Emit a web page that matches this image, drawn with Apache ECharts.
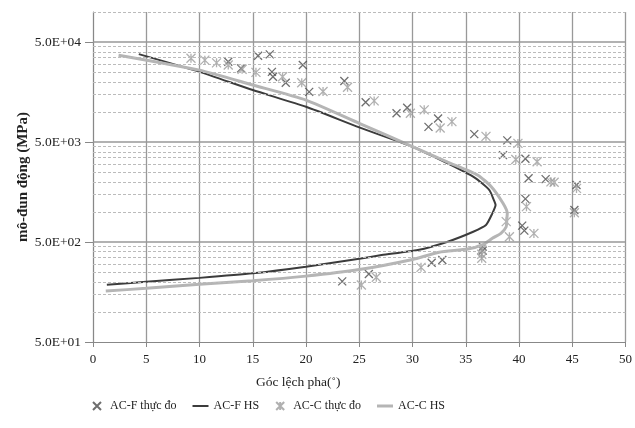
<!DOCTYPE html>
<html><head><meta charset="utf-8">
<script src="https://cdn.jsdelivr.net/npm/echarts@6/dist/echarts.min.js"></script>
<style>html,body{margin:0;padding:0;background:#fff}#c{width:635px;height:428px}</style>
</head><body><div id="c"></div>
<script>
// ---- data (phase angle in degrees, dynamic modulus in MPa) ----
const acfMeasured = [[12.7,31800],[13.9,27300],[15.5,36500],[16.6,37700],[16.8,25200],[16.9,22500],[18.1,19600],[19.7,29500],[20.3,15900],[23.6,20400],[25.6,12500],[28.5,9700],[29.5,11000],[31.5,7100],[32.4,8600],[35.8,6000],[38.9,5200],[38.5,3700],[40.6,3400],[40.9,2170],[42.5,2130],[45.4,1860],[40.6,1350],[45.2,1045],[40.3,730],[40.5,650],[36.6,450],[36.6,410],[32.8,330],[31.8,310],[25.9,239],[23.4,202]];
const accMeasured = [[9.2,34400],[10.5,33000],[11.6,31000],[12.7,29500],[14.0,26700],[15.3,24900],[17.8,22500],[19.6,19600],[21.6,16000],[23.9,17700],[26.4,12900],[29.8,9700],[31.1,10500],[32.6,6900],[33.7,8000],[36.9,5700],[39.9,4850],[39.7,3350],[41.7,3180],[43.0,2000],[43.3,1980],[45.4,1720],[40.7,1130],[45.2,980],[38.8,800],[41.4,610],[39.1,565],[36.5,418],[36.5,377],[36.5,344],[30.8,279],[26.6,222],[25.2,186]];
const acfModel = [[4.3,37900],[10,25200],[15,16560],[20,11270],[25,7010],[30,4490],[33.3,3060],[35.8,2220],[37.2,1660],[37.7,1265],[37.8,1170],[37.5,968],[36.9,740],[35.7,634],[33.3,504],[30.5,416],[27.1,370],[25,340],[20,283],[15,243],[10,219],[5,200],[1.3,187]];
const accModel = [[2.4,37000],[10,26200],[15,18600],[20,13150],[25,7700],[30,4500],[33.3,3150],[36.1,2340],[37.4,1790],[38.5,1220],[38.9,968],[38.85,830],[38.8,711],[38.3,611],[37.5,545],[36.6,470],[35.2,425],[32.5,395],[30,335],[25,265],[20,228],[15,205],[10,189],[5,172],[1.2,162]];
const seriesNames = ['AC-F thực đo','AC-F HS','AC-C thực đo','AC-C HS'];
const yTickValues = [50,500,5000,50000];
const majorGrid = [500,5000,50000];
const minorGrid = [100,150,200,250,300,350,400,450,1000,1500,2000,2500,3000,3500,4000,4500,10000,15000,20000,25000,30000,35000,40000,45000,100000];
const xMin = 0, xMax = 50, xStep = 5;
const yMin = 50, yMax = 100000;

const FONT = '"Liberation Serif","Times New Roman",serif';
function fmtE(v){
  const e = Math.floor(Math.log10(v) + 1e-9);
  const m = v / Math.pow(10, e);
  return m.toFixed(1) + 'E' + (e >= 0 ? '+' : '-') + String(Math.abs(e)).padStart(2,'0');
}
const xPath = 'path://M0,0L10,10M10,0L0,10';
const starPath = 'path://M0,0L10,10M10,0L0,10M5,0L5,10';

const chart = echarts.init(document.getElementById('c'));
chart.setOption({
  animation: false,
  backgroundColor: '#fff',
  textStyle: {fontFamily: FONT},
  grid: {left: 93, right: 6, top: 12, bottom: 86, containLabel: false},
  xAxis: {
    type: 'value', min: xMin, max: xMax, interval: xStep,
    name: 'Góc lệch pha(˚)', nameLocation: 'middle', nameGap: 33, nameMoveOverlap: false,
    nameTextStyle: {fontFamily: FONT, fontSize: 13.5, color: '#222', padding: [0, 122, 0, 0]},
    axisLine: {show: true, lineStyle: {color: '#888', width: 1}},
    axisTick: {show: true, length: 5, lineStyle: {color: '#888'}},
    axisLabel: {fontFamily: FONT, fontSize: 13, color: '#222', margin: 11},
    splitLine: {show: true, lineStyle: {color: '#999', width: 1.3}}
  },
  yAxis: {
    type: 'log', logBase: 10, min: yMin, max: yMax,
    name: 'mô-đun động (MPa)', nameLocation: 'middle', nameGap: 62, nameMoveOverlap: false,
    nameTextStyle: {fontFamily: FONT, fontSize: 15, fontWeight: 'bold', color: '#222'},
    axisLine: {show: true, lineStyle: {color: '#888', width: 1}},
    axisTick: {show: true, length: 8, lineStyle: {color: '#888'}, customValues: yTickValues},
    axisLabel: {fontFamily: FONT, fontSize: 13.5, color: '#222', margin: 12, customValues: yTickValues, formatter: fmtE},
    splitLine: {show: false}
  },
  legend: {
    data: [
      {name: seriesNames[0]},
      {name: seriesNames[1], icon: 'path://M0,0H16V2H0Z'},
      {name: seriesNames[2]},
      {name: seriesNames[3], icon: 'path://M0,0H16V3H0Z'}
    ],
    left: 87, bottom: 11, itemGap: 16, itemWidth: 16, itemHeight: 8,
    textStyle: {fontFamily: FONT, fontSize: 12, color: '#222'}
  },
  series: [
    {
      name: 'grid', type: 'line', data: [], silent: true,
      markLine: {
        silent: true, symbol: ['none','none'], label: {show: false}, animation: false,
        data: majorGrid.map(v => ({yAxis: v, lineStyle: {color: '#999', width: 1.5, type: 'solid'}}))
          .concat(minorGrid.map(v => ({yAxis: v, lineStyle: {color: '#bbb', width: 1, type: [3,2]}})))
      }
    },
    {
      name: seriesNames[0], type: 'scatter', data: acfMeasured, symbol: xPath, symbolSize: 8,
      itemStyle: {color: 'rgba(0,0,0,0)', borderColor: '#4a4a4a', borderWidth: 1.3}
    },
    {
      name: seriesNames[2], type: 'scatter', data: accMeasured, symbol: starPath, symbolSize: 9,
      itemStyle: {color: 'rgba(0,0,0,0)', borderColor: '#9c9c9c', borderWidth: 1.3}
    },
    {
      name: seriesNames[1], type: 'line', data: acfModel, showSymbol: false, symbol: 'none', smooth: 0.2,
      lineStyle: {color: '#3c3c3c', width: 2}, itemStyle: {color: '#3c3c3c'}
    },
    {
      name: seriesNames[3], type: 'line', data: accModel, showSymbol: false, symbol: 'none', smooth: 0.2,
      lineStyle: {color: '#b5b5b5', width: 3}, itemStyle: {color: '#b5b5b5'}
    }
  ]
});
</script></body></html>
